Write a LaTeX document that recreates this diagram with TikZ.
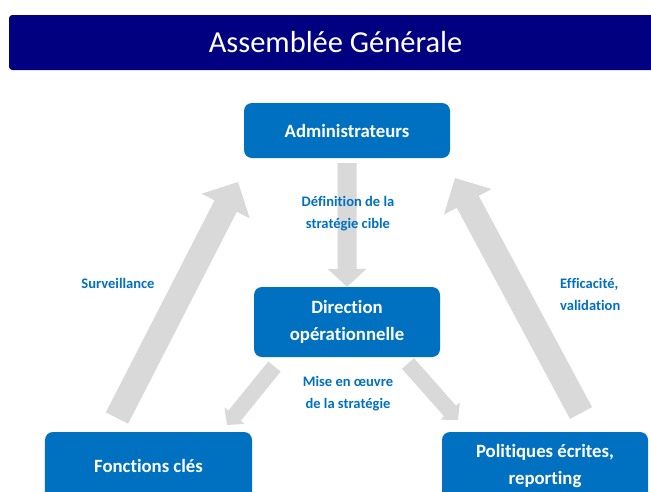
\documentclass[tikz,border=0pt]{standalone}
\usepackage{fontspec}
\setmainfont{Carlito}[Ligatures=NoCommon]
\usetikzlibrary{calc}

\definecolor{boxblue}{HTML}{0070C0}
\definecolor{navyblue}{HTML}{000080}
\definecolor{arrowgray}{HTML}{D9D9D9}

% block arrow: from, to, half shaft, half head, head length
\newcommand{\blockarrow}[5]{%
  \coordinate (ba) at ($(#2)!#5!(#1)$);
  \fill[arrowgray] ($(#1)!#3!90:(#2)$) -- ($(ba)!#3!90:(#2)$) -- ($(ba)!#4!90:(#2)$) -- (#2)
    -- ($(ba)!#4!-90:(#2)$) -- ($(ba)!#3!-90:(#2)$) -- ($(#1)!#3!-90:(#2)$) -- cycle;
}

\begin{document}
\begin{tikzpicture}[x=0.03cm, y=-0.03cm,
box/.style={fill=boxblue, text=white, rounded corners=0.24cm, align=center, inner sep=0,
  font=\bfseries\fontsize{16}{23}\selectfont},
lbl/.style={text=boxblue, align=center, inner sep=0, font=\bfseries\fontsize{12.4}{18.8}\selectfont},
]
\useasboundingbox (0,0) rectangle (651,491);
\clip (0,0) rectangle (651,491);
\fill[white] (0,0) rectangle (651,491);

% banner
\fill[navyblue, rounded corners=0.1cm] (9,15) rectangle (700,70);
\node[text=white, anchor=base, font=\fontsize{26}{30}\selectfont] (title) at (335.5,52) {Assemblée Générale};

\node[box, minimum width=6.18cm, minimum height=1.65cm] (admin) at (347,130.5) {Administrateurs};
\node[box, minimum width=5.58cm, minimum height=2.1cm] (dir) at (347,322) {Direction\\opérationnelle};
\node[box, minimum width=6.21cm, minimum height=2.04cm] (fonc) at (148.5,466) {Fonctions clés};
\node[box, minimum width=6.18cm, minimum height=2.04cm] (pol) at (545,466) {Politiques écrites,\\reporting};

% arrows
\coordinate (defA) at ($(admin.south)+(0,5)$);
\coordinate (survA) at (117,418);
\coordinate (survB) at (238,182);
\coordinate (effA) at (581,413);
\coordinate (effB) at (455,178);
\coordinate (miseA) at (274.5,366.5);
\coordinate (miseB) at (227,425);
\coordinate (repA) at (408,363.5);
\coordinate (repB) at (458,420);

\blockarrow{defA}{dir.north}{0.285cm}{0.585cm}{0.54cm}
\blockarrow{survA}{survB}{0.375cm}{0.81cm}{0.81cm}
\blockarrow{effA}{effB}{0.375cm}{0.81cm}{0.81cm}
\blockarrow{miseA}{miseB}{0.24cm}{0.39cm}{0.36cm}
\blockarrow{repA}{repB}{0.24cm}{0.39cm}{0.36cm}

% labels
\node[lbl] (deflbl) at (348,214) {Définition de la\\stratégie cible};
\node[lbl] (survlbl) at (118,283) {Surveillance};
\node[lbl, anchor=west, align=left] (efflbl) at (560,294) {Efficacité,\\validation};
\node[lbl] (miselbl) at (348,393.5) {Mise en œuvre\\de la stratégie};

\end{tikzpicture}
\end{document}
